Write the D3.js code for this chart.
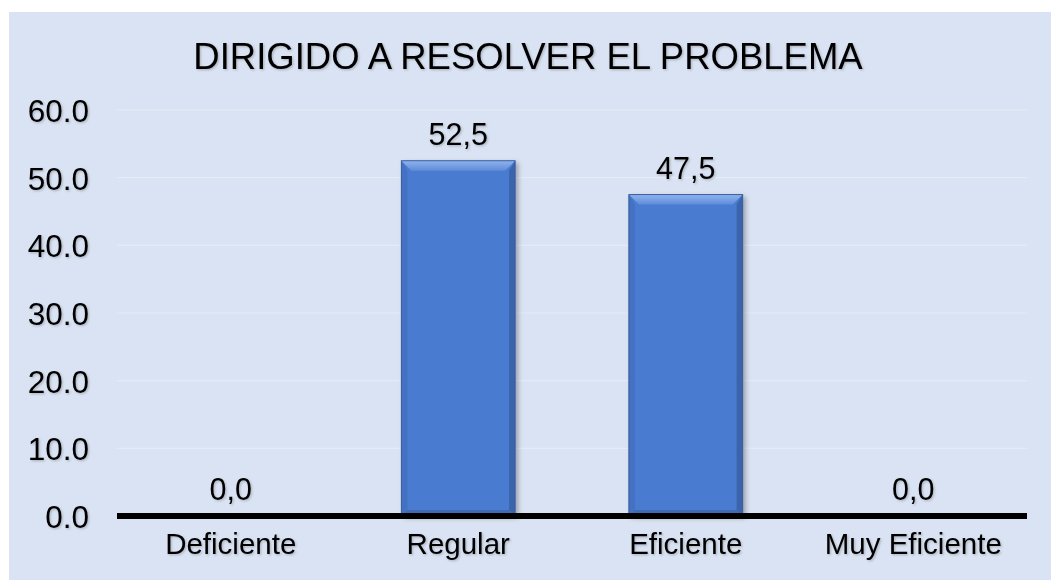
<!DOCTYPE html>
<html>
<head>
<meta charset="utf-8">
<script src="https://cdn.jsdelivr.net/npm/d3@7"></script>
<style>
  html, body { margin: 0; padding: 0; background: #ffffff; }
  svg { display: block; font-family: Arial, "Liberation Sans", sans-serif; }
</style>
</head>
<body>
<div id="chart"></div>
<script>
// chart data
const categories = ["Deficiente", "Regular", "Eficiente", "Muy Eficiente"];
const values = [0.0, 52.5, 47.5, 0.0];
const yTicks = [0, 10, 20, 30, 40, 50, 60];
const title = "DIRIGIDO A RESOLVER EL PROBLEMA";

let width = 1051;
let height = 580;
let margin = { left: 117, right: 24, top: 110, bottom: 64 };

let svg = d3.select("#chart").append("svg")
  .attr("width", width)
  .attr("height", height);

let defs = svg.append("defs");

// soft shadow used on text
let ts = defs.append("filter").attr("id", "tshadow")
  .attr("x", "-10%").attr("y", "-20%").attr("width", "130%").attr("height", "150%");
ts.append("feDropShadow")
  .attr("dx", 1.2).attr("dy", 1.2).attr("stdDeviation", 1.1)
  .attr("flood-color", "#000").attr("flood-opacity", 0.22);

// shadow for bars
let bs = defs.append("filter").attr("id", "bshadow")
  .attr("x", "-10%").attr("y", "-10%").attr("width", "130%").attr("height", "120%");
bs.append("feDropShadow")
  .attr("dx", 3).attr("dy", 2).attr("stdDeviation", 2.5)
  .attr("flood-color", "#000").attr("flood-opacity", 0.3);

let topGrad = defs.append("linearGradient").attr("id", "topgrad")
  .attr("x1", 0).attr("y1", 0).attr("x2", 0).attr("y2", 1);
topGrad.append("stop").attr("offset", "0%").attr("stop-color", "#8fb3ee");
topGrad.append("stop").attr("offset", "100%").attr("stop-color", "#5f8cd9");

// panel background
svg.append("rect")
  .attr("x", 9).attr("y", 12)
  .attr("width", width - 9).attr("height", height - 12)
  .attr("fill", "#dae3f3");

let x = d3.scaleBand()
  .domain(categories)
  .range([margin.left, width - margin.right])
  .paddingInner(0.5)
  .paddingOuter(0.25);

let y = d3.scaleLinear()
  .domain([0, 60])
  .range([height - margin.bottom, margin.top]);

// gridlines
svg.append("g")
  .selectAll("line")
  .data(yTicks.filter(d => d > 0))
  .enter().append("line")
  .attr("x1", margin.left).attr("x2", width - margin.right)
  .attr("y1", d => y(d)).attr("y2", d => y(d))
  .attr("stroke", "#e4eaf6")
  .attr("stroke-width", 1.2);

// y axis labels
let yAxis = d3.axisLeft(y)
  .tickValues(yTicks)
  .tickSize(0)
  .tickPadding(0)
  .tickFormat(d3.format(".1f"));

let yg = svg.append("g")
  .attr("transform", "translate(89,0)")
  .call(yAxis);
yg.select(".domain").remove();
yg.selectAll("text")
  .attr("font-size", "31.5px")
  .attr("fill", "#000")
  .attr("dy", "0.36em")
  .attr("filter", "url(#tshadow)");

// bars
let bars = svg.append("g").selectAll("g.bar")
  .data(values)
  .enter().append("g")
  .attr("class", "bar");

let bevel = 10;
bars.each(function (d, i) {
  if (d <= 0) return;
  let g = d3.select(this);
  let x0 = x(categories[i]);
  let w = x.bandwidth();
  let y0 = y(d);
  let y1 = y(0);
  g.append("rect")
    .attr("x", x0).attr("y", y0)
    .attr("width", w).attr("height", y1 - y0)
    .attr("fill", "#4a7bd0")
    .attr("filter", "url(#bshadow)");
  // top bevel
  g.append("polygon")
    .attr("points", [[x0, y0], [x0 + w, y0], [x0 + w - bevel, y0 + bevel], [x0 + bevel, y0 + bevel]].join(" "))
    .attr("fill", "url(#topgrad)");
  // left bevel
  g.append("polygon")
    .attr("points", [[x0, y0], [x0 + bevel * 0.6, y0 + bevel], [x0 + bevel * 0.6, y1 - bevel * 0.6], [x0, y1]].join(" "))
    .attr("fill", "#4471c2");
  // right bevel
  g.append("polygon")
    .attr("points", [[x0 + w, y0], [x0 + w - bevel * 0.6, y0 + bevel], [x0 + w - bevel * 0.6, y1 - bevel * 0.6], [x0 + w, y1]].join(" "))
    .attr("fill", "#3c64ad");
  // bottom bevel
  g.append("polygon")
    .attr("points", [[x0, y1], [x0 + bevel * 0.6, y1 - bevel * 0.6], [x0 + w - bevel * 0.6, y1 - bevel * 0.6], [x0 + w, y1]].join(" "))
    .attr("fill", "#416ab6");
  g.append("rect")
    .attr("x", x0).attr("y", y0)
    .attr("width", w).attr("height", y1 - y0)
    .attr("fill", "none")
    .attr("stroke", "#3a5f9f")
    .attr("stroke-width", 1);
});

// value labels
svg.append("g").selectAll("text")
  .data(values)
  .enter().append("text")
  .attr("x", (d, i) => x(categories[i]) + x.bandwidth() / 2)
  .attr("y", d => y(d) - 16)
  .attr("text-anchor", "middle")
  .attr("font-size", "30.5px")
  .attr("fill", "#000")
  .attr("filter", "url(#tshadow)")
  .text(d => d.toFixed(1).replace(".", ","));

// x axis
let xAxis = d3.axisBottom(x).tickSize(0).tickPadding(0);
let xg = svg.append("g")
  .attr("transform", "translate(0," + y(0) + ")")
  .call(xAxis);
xg.select(".domain").remove();
xg.append("line")
  .attr("x1", margin.left).attr("x2", width - margin.right)
  .attr("y1", 0).attr("y2", 0)
  .attr("stroke", "#000")
  .attr("stroke-width", 6);
xg.selectAll(".tick text")
  .attr("font-size", "29.5px")
  .attr("fill", "#000")
  .attr("dy", "1.3em")
  .attr("filter", "url(#tshadow)");

// title
svg.append("text")
  .attr("x", 528)
  .attr("y", 69)
  .attr("text-anchor", "middle")
  .attr("font-size", "36.5px")
  .attr("fill", "#000")
  .attr("filter", "url(#tshadow)")
  .text(title);
</script>
</body>
</html>
